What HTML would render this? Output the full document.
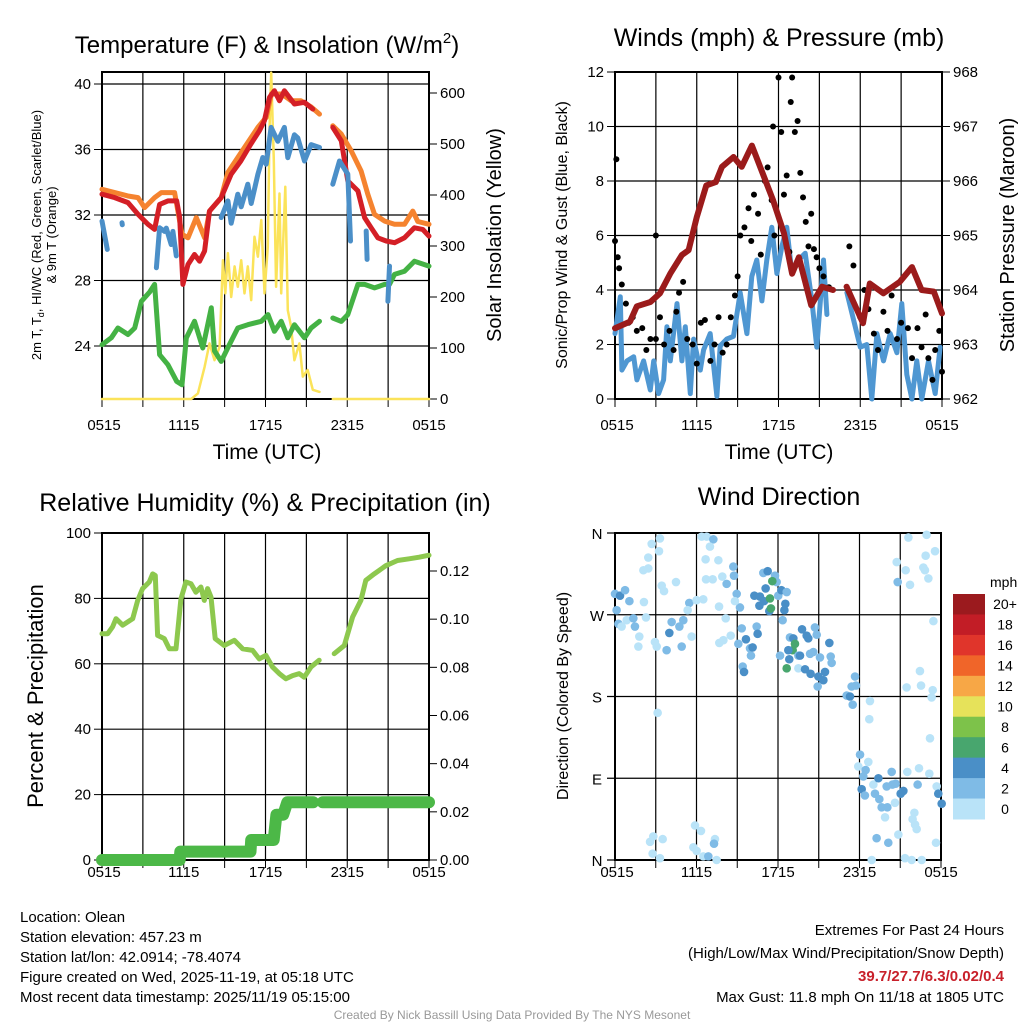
<!DOCTYPE html>
<html><head><meta charset="utf-8">
<style>
body{margin:0;background:#fff;}
svg{display:block;font-family:"Liberation Sans",Arial,sans-serif;}
</style></head>
<body>
<svg id="c" width="1024" height="1024" viewBox="0 0 1024 1024">
<rect width="1024" height="1024" fill="#fff"/>
<text x="267" y="53" font-size="24" text-anchor="middle">Temperature (F) &amp; Insolation (W/m<tspan dy="-10" font-size="15">2</tspan><tspan dy="10">)</tspan></text>
<text x="779" y="46" font-size="25" text-anchor="middle">Winds (mph) &amp; Pressure (mb)</text>
<text x="265" y="511" font-size="25" text-anchor="middle">Relative Humidity (%) &amp; Precipitation (in)</text>
<text x="779" y="505" font-size="25" text-anchor="middle">Wind Direction</text>
<text x="267" y="459" font-size="21" text-anchor="middle">Time (UTC)</text>
<text x="779" y="459" font-size="21" text-anchor="middle">Time (UTC)</text>
<text transform="translate(41,235) rotate(-90)" font-size="13" text-anchor="middle">2m T, T<tspan font-size="9" dy="3">d</tspan><tspan dy="-3">, HI/WC (Red, Green, Scarlet/Blue)</tspan></text>
<text transform="translate(56,235) rotate(-90)" font-size="13" text-anchor="middle">&amp; 9m T (Orange)</text>
<text transform="translate(501,235) rotate(-90)" font-size="20" text-anchor="middle">Solar Insolation (Yellow)</text>
<text transform="translate(567,235) rotate(-90)" font-size="16" text-anchor="middle">Sonic/Prop Wind &amp; Gust (Blue, Black)</text>
<text transform="translate(1014,235) rotate(-90)" font-size="20" text-anchor="middle">Station Pressure (Maroon)</text>
<text transform="translate(43,696) rotate(-90)" font-size="22" text-anchor="middle">Percent &amp; Precipitation</text>
<text transform="translate(568,696) rotate(-90)" font-size="16" text-anchor="middle">Direction (Colored By Speed)</text>
<g font-size="15">
<text x="20" y="922">Location: Olean</text>
<text x="20" y="942">Station elevation: 457.23 m</text>
<text x="20" y="962">Station lat/lon: 42.0914; -78.4074</text>
<text x="20" y="982">Figure created on Wed, 2025-11-19, at 05:18 UTC</text>
<text x="20" y="1002">Most recent data timestamp: 2025/11/19 05:15:00</text>
</g>
<g font-size="15" text-anchor="end">
<text x="1004" y="935">Extremes For Past 24 Hours</text>
<text x="1004" y="958">(High/Low/Max Wind/Precipitation/Snow Depth)</text>
<text x="1004" y="981" fill="#c8202a" font-weight="bold">39.7/27.7/6.3/0.02/0.4</text>
<text x="1004" y="1002">Max Gust: 11.8 mph On 11/18 at 1805 UTC</text>
</g>
<text x="512" y="1019" font-size="12" fill="#999" text-anchor="middle">Created By Nick Bassill Using Data Provided By The NYS Mesonet</text>
</svg>
<script>
// ---- data (hours since 0515 UTC) ----
const tRedH=[0,0.93,1.91,2.64,3.37,3.86,4.23,4.84,5.48,5.7,5.94,6.31,6.79,7.16,7.53,7.89,8.75,9.48,10.19,10.92,11.55,11.92,12.29,12.65,13.03,13.39,14.12,14.86,15.47,null,16.94,17.56,18.04,18.78,19.27,19.76,20.24,20.86,21.47,22.2,22.93,23.54,24];
const tRed=[33.27,33.06,32.76,32.04,31.43,31.12,32.65,32.86,32.86,31.84,27.76,28.98,29.59,29.18,29.8,32.24,33.06,34.49,35.3,36.33,37.14,37.76,39.18,39.59,38.98,39.59,38.78,38.88,38.47,null,37.35,36.53,34.08,33.47,31.84,31.22,30.61,30.41,30.31,30.61,31.22,31.12,30.71];
const tOrgH=[0,0.93,1.91,2.64,3.13,3.86,4.35,5.33,5.87,6.31,6.92,7.53,7.89,8.75,9.24,9.97,10.7,11.44,12.05,12.43,13.2,13.88,14.6,15.35,15.96,null,16.94,17.56,18.29,19.02,19.51,20.0,20.74,21.47,22.2,22.81,23.18,24];
const tOrg=[33.57,33.37,33.16,33.06,32.45,33.06,33.37,33.37,30.82,30.61,31.84,30.61,32.24,33.06,34.6,35.51,36.43,37.35,37.96,39.39,39.39,38.98,38.98,38.6,38.16,null,37.45,36.94,35.92,34.69,33.27,32.04,31.63,31.43,31.43,32.24,31.6,31.43];
const tBluH=[0,0.39,null,1.47,1.49,null,3.99,4.23,4.6,4.72,5.08,5.2,5.45,null,8.75,9.24,9.48,9.97,10.22,10.7,10.95,11.44,11.8,12.05,12.41,12.9,13.39,13.64,14.12,14.37,14.86,15.35,15.96,null,16.94,17.43,18.04,18.24,null,19.39,19.46,null,20.98,21.1];
const tBlu=[31.63,29.9,null,31.53,31.4,null,28.78,31.22,31.0,31.2,30.2,31.0,29.5,null,31.84,32.86,31.5,33.27,32.5,33.88,32.7,34.49,35.51,35.1,37.35,36.5,37.35,35.5,36.9,36.7,35.3,36.3,36.12,null,33.88,35.3,34.5,30.41,null,31.02,29.29,null,26.73,28.88];
const tGrnH=[0,0.68,1.17,1.91,2.4,2.89,3.5,3.86,4.23,4.84,5.48,5.87,6.19,6.79,7.4,8.02,8.26,8.75,9.24,9.97,10.7,11.69,12.18,12.65,13.15,13.64,14.12,14.86,15.35,15.96,null,16.94,17.56,18.04,18.78,19.27,20.0,20.74,21.1,21.47,22.2,22.93,24];
const tGrn=[24.08,24.5,25.1,24.7,25.1,26.73,27.3,27.76,23.47,22.86,21.84,21.63,24.49,25.51,23.88,26.33,23.7,23.06,23.9,25.1,25.3,25.51,25.92,24.9,25.51,24.5,25.3,24.5,25.1,25.51,null,25.71,25.5,25.92,27.76,27.76,27.55,27.76,27.76,28.37,28.57,29.18,28.88];
const solH=[0,6.55,7.04,7.53,7.89,8.26,8.63,8.87,9.05,9.24,9.48,9.73,9.97,10.22,10.46,10.7,10.95,11.19,11.44,11.69,11.93,12.17,12.3,12.42,12.61,12.78,13.03,13.15,13.45,13.64,13.88,14.12,14.49,14.74,15.1,15.47,15.96,null,16.94,24];
const sol=[0,0,11,63,109,76,102,272,207,286,200,260,220,272,207,260,194,318,279,351,207,298,534,640,469,220,403,207,416,174,142,76,109,44,57,18,14,null,0,0];
const prsH=[0,1.1,1.6,2.6,3.3,4.05,4.9,5.4,6.0,6.7,7.4,7.85,8.7,9.3,10.05,10.9,11.6,12.4,13.0,13.5,14.4,15.2,16.0,null,17.0,18.2,18.7,19.7,20.9,21.8,22.5,23.4,24];
const prs=[963.3,963.42,963.7,963.78,963.94,964.3,964.64,964.73,965.34,965.92,965.98,966.26,966.44,966.26,966.65,966.1,965.65,965.04,964.3,964.6,963.72,964.06,964.0,null,964.06,963.39,964.12,963.94,964.15,964.42,964.0,963.97,963.57];
const wndH=[0,0.39,0.51,0.88,1.37,1.61,2.1,2.59,2.84,3.2,3.57,3.81,4.06,4.55,4.91,5.16,5.53,5.77,6.26,6.5,6.99,7.48,7.72,8.2,8.7,9.19,9.68,10.04,10.41,10.78,11.14,11.51,11.88,12.25,12.61,12.98,13.47,13.96,14.45,14.81,15.3,15.55,null,17.02,17.51,18.0,18.48,18.85,19.22,19.71,20.2,20.69,21.05,21.42,21.79,22.15,22.52,23.01,23.5,23.86];
const wnd=[2.4,3.75,1.06,1.4,1.55,0.7,1.4,0.33,1.4,0.2,0.7,2.65,1.4,3.5,1.4,2.65,0.2,2.2,1.06,1.8,2.4,0.1,1.95,2.2,2.3,3.9,2.4,4.5,5.1,3.6,5.1,6.3,4.6,5.6,6.3,4.6,5.1,5.35,3.6,1.9,5.1,3.1,null,3.9,2.9,1.9,2.0,0,2.4,1.4,2.4,1.7,3.5,0.9,0,1.4,0,1.4,0.2,1.9];
const gstH=[0,0.1,0.2,0.3,0.5,0.8,1,1.3,1.6,2,2.3,2.6,3,3.3,3.6,4,4.3,4.5,4.7,5,5.3,5.7,6,6.3,6.6,7,7.3,7.6,7.9,8.2,8.5,8.8,9,9.2,9.5,9.8,10,10.2,10.5,10.7,11,11.2,11.5,11.6,11.7,12,12.2,12.4,12.6,12.8,12.9,13,13.2,13.4,13.6,13.8,14,14.2,14.4,14.6,14.8,15,15.3,15.7,17.2,17.5,18,18.3,18.6,19,19.3,19.7,20,20.3,20.7,21,21.5,21.8,22.2,22.5,22.8,23,23.3,23.5,23.8,24,3.0];
const gst=[5.8,8.8,5.2,4.8,4.2,3.5,2.8,3,2.5,2.6,1.8,2.2,2.2,3,2,2.5,1.8,3.2,3.9,4.3,2.2,2,1.3,2.8,2.9,1.4,2,3,1.7,2,3,3.8,4.5,6,6.3,7,5.8,7.5,6.8,5.3,8,8.5,7.3,10,6,11.8,9.8,7.5,8.2,5.4,10.9,11.8,9.8,10.2,8.3,7.4,6.5,5.6,6.8,5.5,5.2,4.8,4.5,4.1,5.6,4.9,3,4,3.3,2.4,1.8,3.2,2.5,3.8,2.2,2.8,2.6,1.5,2.6,1.9,3.1,1.5,0.7,1.8,2.5,1.0,6.0];
const rhH=[0,0.42,0.78,1.03,1.52,2.25,2.62,2.98,3.47,3.72,3.91,4.08,4.57,4.94,5.43,5.79,6.16,6.53,6.89,7.26,7.51,7.75,8.0,8.31,8.97,9.71,10.32,11.05,11.54,12.03,12.52,13.01,13.5,13.99,14.47,14.84,15.33,15.94,null,17.04,17.78,18.39,19.0,19.36,19.98,20.83,21.69,22.54,23.28,24];
const rh=[69.2,69.2,71.3,73.8,71.8,73.8,79.4,83,85,87.5,87,68.7,67.7,64.6,64.6,79.8,85,84.5,81.9,83.5,79.4,83,80.4,67.7,65.6,67.2,64.6,64.1,61.5,62.6,59,57,55.4,56.4,57,55.9,59,61.1,null,63.1,65.6,74.3,79.4,85.5,87.5,90,91.6,92.1,92.6,93.2];
const pcpH=[0,5.7,5.75,10.9,10.95,12.6,12.8,13.3,13.6,15.5,null,16.2,24];
const pcp=[0,0,0.0035,0.0035,0.0083,0.0083,0.0188,0.0188,0.024,0.024,null,0.024,0.024];
const dirH=[];const dirDeg=[];const dirSpd=[];
const dirPts=[[165,220,1],[180,225,2],[195,210,1],[208,242,1],[170,270,1],[175,310,1],[185,318,0],[200,300,0],[220,295,1],[225,318,1],[238,348,0],[235,378,0],[250,150,0],[265,145,0],[265,112,0],[275,72,0],[300,55,0],[297,93,0],[305,195,0],[312,212,0],[348,185,0],[252,246,0],[258,293,0],[285,365,0],[290,380,0],[320,390,1],[328,338,2],[335,305,1],[358,318,1],[370,300,1],[365,378,1],[395,348,0],[388,248,1],[383,270,0],[410,240,0],[430,238,0],[425,48,0],[440,48,0],[460,58,1],[450,78,0],[437,118,0],[438,176,0],[458,178,0],[475,120,0],[477,260,0],[497,295,0],[487,170,0],[500,190,1],[520,140,1],[522,165,1],[530,222,1],[540,262,1],[525,243,0],[512,345,0],[490,360,0],[478,368,0],[545,325,1],[558,358,2],[535,372,1],[570,385,1],[578,383,2],[573,405,1],[548,440,1],[552,455,2],[590,320,1],[593,340,2],[610,158,1],[623,152,2],[645,165,1],[650,185,1],[617,205,2],[583,225,2],[600,230,2],[598,255,2],[612,242,2],[628,272,2],[637,183,3],[630,235,3],[633,265,3],[655,225,1],[664,210,2],[680,215,1],[676,250,2],[673,270,2],[668,300,1],[660,405,1],[690,352,1],[700,355,2],[705,372,3],[698,391,3],[685,390,2],[688,418,2],[680,445,3],[715,405,1],[720,405,2],[726,328,2],[740,345,2],[745,355,2],[765,322,1],[770,343,1],[750,400,1],[760,395,1],[780,412,1],[715,445,0],[735,447,2],[752,462,2],[775,470,2],[790,480,2],[795,455,2],[808,367,2],[812,410,1],[815,427,1],[773,500,1],[860,525,1],[870,530,2],[878,553,1],[885,470,1],[888,497,1],[875,500,1],[930,542,0],[928,598,0],[293,578,0],[900,703,1],[895,738,0],[925,725,0],[917,750,1],[910,770,1],[905,808,2],[915,825,1],[940,793,0],[955,775,2],[945,820,1],[958,838,1],[965,862,1],[982,862,1],[975,892,0],[995,755,1],[980,798,1],[997,793,1],[1007,792,1],[1022,820,2],[1030,812,2],[1042,755,0],[1077,745,0],[1073,793,1],[1108,760,0],[1130,798,0],[1135,820,2],[1145,850,2],[1005,847,0],[1063,877,0],[1058,897,0],[1065,913,0],[1070,927,0],[1015,944,0],[950,955,1],[985,968,1],[1128,968,0],[935,1020,0],[1035,1015,0],[1055,1020,0],[1085,1020,0],[1045,52,0],[1100,43,0],[1097,106,0],[1125,93,0],[1010,126,0],[1037,150,0],[1090,143,0],[1095,150,0],[1105,175,0],[1013,186,1],[1050,193,0],[1120,302,0],[1080,452,0],[1083,495,0],[1040,503,0],[1118,510,0],[1115,533,0],[1110,655,0],[270,965,0],[280,950,0],[308,958,0],[278,1000,0],[300,1015,0],[405,915,0],[423,933,0],[400,983,0],[410,993,0],[430,1010,0],[445,1010,1],[465,958,0],[462,970,1],[470,1020,0]];
const spdCat=[1,3,4.5,6.5];
for(const p of dirPts){dirH.push(+((p[0]-165)/40.75).toFixed(2));dirDeg.push(Math.round((1020-p[1])*0.3666));dirSpd.push(spdCat[p[2]]);}
const cbLabels=['20+','18','16','14','12','10','8','6','4','2','0'];
const cbColors=['#9b1a1e','#c21d26','#e0352b','#f06529','#f7a746','#e6e25a','#7dc24a','#48a66e','#4a8fc7','#7fbbe6','#b9e3f8'];
const tLeftTicks=[24,28,32,36,40];const solTicks=[0,100,200,300,400,500,600];
const wndTicks=[0,2,4,6,8,10,12];const prsTicks=[962,963,964,965,966,967,968];
const rhTicks=[0,20,40,60,80,100];const pcpTicks=[0,0.02,0.04,0.06,0.08,0.10,0.12];
const xLabels=['0515','1115','1715','2315','0515'];const dirLabels=['N','E','S','W','N'];

// ---- helpers ----
const svg=document.getElementById('c');const NS='http://www.w3.org/2000/svg';
function mk(tag,at,parent){const e=document.createElementNS(NS,tag);for(const k in at)e.setAttribute(k,at[k]);(parent||svg).appendChild(e);return e;}
function lin(d0,d1,r0,r1){return v=>r0+(v-d0)/(d1-d0)*(r1-r0);}
function linePath(xs,ys,sx,sy){let d='',pen=false;for(let i=0;i<xs.length;i++){if(xs[i]===null||ys[i]===null){pen=false;continue;}d+=(pen?'L':'M')+sx(xs[i]).toFixed(1)+','+sy(ys[i]).toFixed(1);pen=true;}return d;}
function frame(L,T,R,B,name,labY){
 const g=mk('g',{});
 const sx=lin(0,24,L,R);
 for(let h=3;h<24;h+=3)mk('line',{x1:sx(h),x2:sx(h),y1:T,y2:B,stroke:'#000','stroke-width':1.2},g);
 for(let h=0;h<=24;h+=3)mk('line',{x1:sx(h),x2:sx(h),y1:B,y2:B+8,stroke:'#000','stroke-width':1},g);
 for(let h=0;h<=24;h+=6){const t=mk('text',{x:h===0?sx(h)+2:sx(h),y:labY,'font-size':15,'text-anchor':'middle'},g);t.textContent=xLabels[h/6];}
 return sx;}
function yTicks(vals,sy,x,side,fmt,name,L,R){
 const g=mk('g',{});
 for(const v of vals){const y=sy(v);
  if(L!==undefined)mk('line',{x1:L,x2:R,y1:y,y2:y,stroke:'#000','stroke-width':1.2},g);
  mk('line',{x1:x,x2:x+(side<0?-8:8),y1:y,y2:y,stroke:'#000'},g);
  const t=mk('text',{x:x+(side<0?-11:11),y:y+5,'font-size':15,'text-anchor':side<0?'end':'start'},g);t.textContent=fmt(v);}
}
function border(L,T,R,B,name){const r=mk('rect',{x:L,y:T,width:R-L,height:B-T,fill:'none',stroke:'#000','stroke-width':2});}
function line(xs,ys,sx,sy,col,w,name){const p=mk('path',{d:linePath(xs,ys,sx,sy),fill:'none',stroke:col,'stroke-width':w,'stroke-linejoin':'round','stroke-linecap':'round'});}

// ---- Panel 1: temperature ----
{const L=102,T=72,R=429,B=399;
 const sx=frame(L,T,R,B,'temp',430);
 const sy=lin(24,40,346,84);const sS=lin(0,600,B,93);
 yTicks(tLeftTicks,sy,L,-1,v=>v,'temp-left-axis',L,R);
 yTicks(solTicks,sS,R,1,v=>v,'solar-right-axis');
 border(L,T,R,B,'temp-plot-border');
 line(solH,sol,sx,sS,'#fbe35a',2.5,'solar-line');
 line(tGrnH,tGrn,sx,sy,'#44b244',5,'dewpoint-line');
 line(tOrgH,tOrg,sx,sy,'#f5832f',5,'temp-9m-line');
 line(tRedH,tRed,sx,sy,'#d41f26',5,'temp-2m-line');
 line(tBluH,tBlu,sx,sy,'#4b8fc8',5,'heat-index-windchill-line');}
// ---- Panel 2: winds ----
{const L=615,T=72,R=942,B=399;
 const sx=frame(L,T,R,B,'wind',430);
 const sy=lin(0,12,B,T);const sP=lin(962,968,B,T);
 yTicks(wndTicks,sy,L,-1,v=>v,'wind-left-axis',L,R);
 yTicks(prsTicks,sP,R,1,v=>v,'pressure-right-axis');
 border(L,T,R,B,'wind-plot-border');
 line(wndH,wnd,sx,sy,'#4f97d2',5,'wind-speed-line');
 const g=mk('g',{});
 for(let i=0;i<gstH.length;i++){const c=mk('circle',{cx:sx(gstH[i]),cy:sy(gst[i]),r:3,fill:'#000'},g);}
 line(prsH,prs,sx,sP,'#9b1b1b',6,'pressure-line');}
// ---- Panel 3: RH ----
{const L=102,T=533,R=429,B=860;
 const sx=frame(L,T,R,B,'rh',877);
 const sy=lin(0,100,B,T);const sP=lin(0,0.12,B,571);
 yTicks(rhTicks,sy,L,-1,v=>v,'rh-left-axis',L,R);
 yTicks(pcpTicks,sP,R,1,v=>v.toFixed(2),'precip-right-axis');
 border(L,T,R,B,'rh-plot-border');
 line(pcpH,pcp,sx,sP,'#4cb847',12,'precip-line');
 line(rhH,rh,sx,sy,'#8dc84e',5,'rh-line');}
// ---- Panel 4: wind direction ----
{const L=615,T=533,R=941,B=860;
 const sx=frame(L,T,R,B,'winddir',877);
 const sy=lin(0,360,B,T);
 const g0=mk('g',{});
 for(let i=0;i<5;i++){const y=sy(i*90);mk('line',{x1:L-8,x2:R,y1:y,y2:y,stroke:'#000','stroke-width':1.2},g0);
  const t=mk('text',{x:L-18,y:y+6,'font-size':15,'text-anchor':'middle'},g0);t.textContent=dirLabels[i];}
 border(L,T,R,B,'winddir-plot-border');
 const col=s=>cbColors[10-Math.min(10,Math.floor(s/2))];
 const g=mk('g',{});
 for(let i=0;i<dirH.length;i++){const c=mk('circle',{cx:sx(dirH[i]),cy:sy(dirDeg[i]),r:4.3,fill:col(dirSpd[i])},g);}
 const cb=mk('g',{});
 const ut=mk('text',{x:990,y:587,'font-size':14},cb);ut.textContent='mph';
 const h=225/11;
 for(let i=0;i<11;i++){mk('rect',{x:953,y:594+i*h,width:32,height:h+0.5,fill:cbColors[i]},cb);
  const t=mk('text',{x:1005,y:594+i*h+h/2+5,'font-size':14,'text-anchor':'middle'},cb);t.textContent=cbLabels[i];}
}
</script>
</body></html>
